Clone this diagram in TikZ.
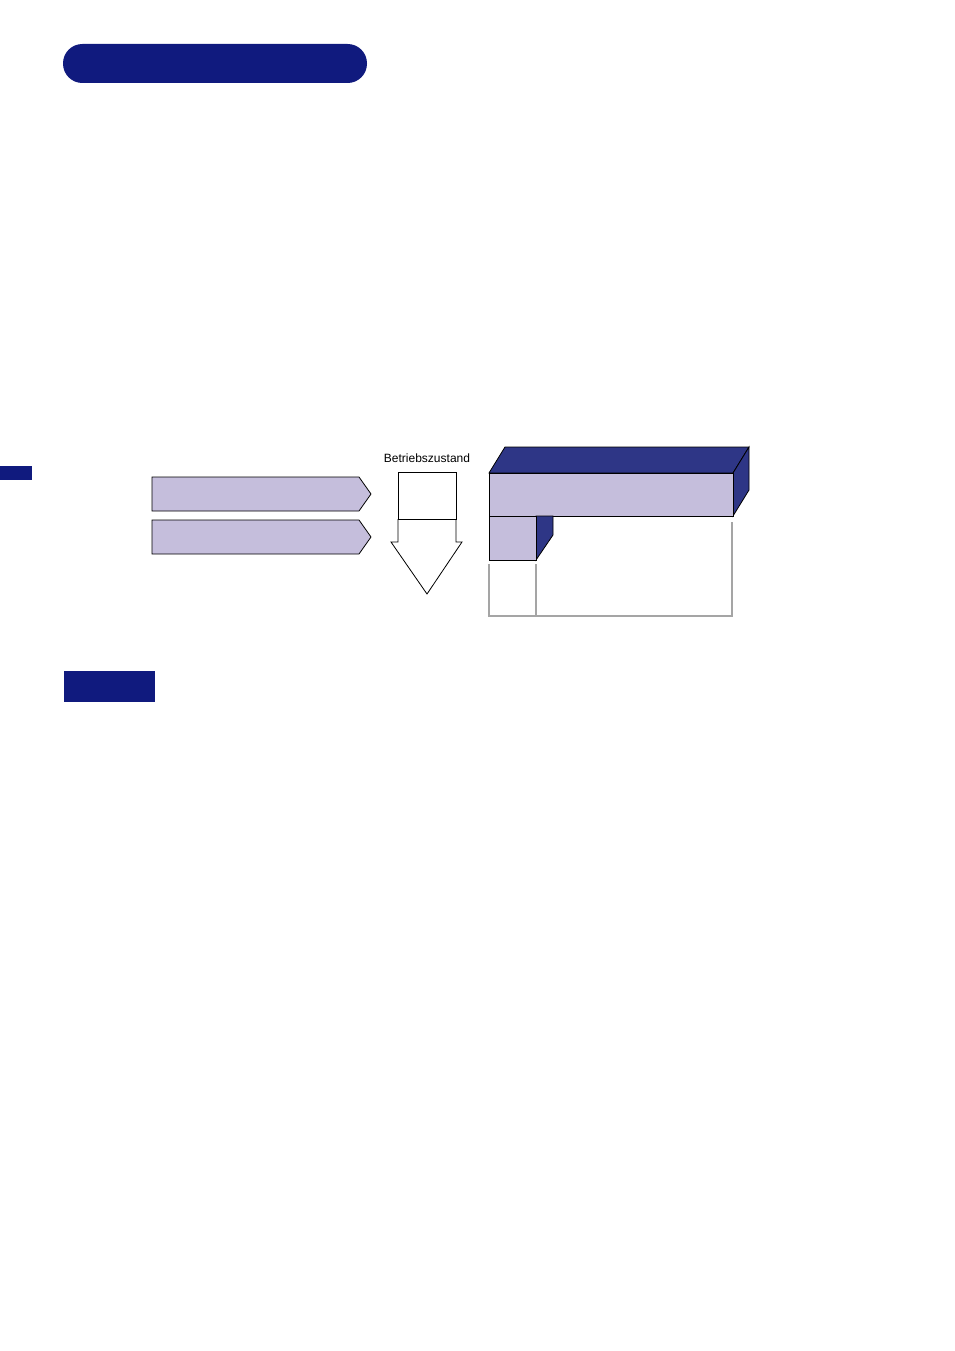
\documentclass[tikz,border=0pt]{standalone}
\usepackage{fontspec}
\setmainfont{Liberation Sans}

\definecolor{navy}{RGB}{16,26,126}
\definecolor{sideblue}{RGB}{46,54,134}
\definecolor{lilac}{RGB}{197,190,220}
\definecolor{guidegray}{RGB}{165,165,165}

\tikzstyle{line} = [line width=0.6pt, draw=black]
\tikzstyle{face} = [line, fill=lilac]
\tikzstyle{side} = [line, fill=sideblue]
\tikzstyle{guide} = [line width=0.8pt, draw=guidegray]

\begin{document}
\begin{tikzpicture}[x=0.75pt,y=-0.75pt]
\useasboundingbox (0,0) rectangle (954,1351);

% header bars
\fill[navy, rounded corners=14.5pt] (63,44) rectangle (367,83);
\fill[navy] (0,466) rectangle (32,480);
\fill[navy] (64,671) rectangle (155,702);

% signal arrows
\draw[face] (152,477) -- (359,477) -- (371,494) -- (359,511) -- (152,511) -- cycle;
\draw[face] (152,520) -- (359,520) -- (371,537) -- (359,554) -- (152,554) -- cycle;

% down arrow
\node[inner sep=0pt, font=\fontsize{9}{10}\selectfont] (state) at (427,458) {Betriebszustand};
\draw[line] (398,519) -- (398,472) -- (456,472) -- (456,519) -- cycle;
\draw[line] (398,519) -- (398,542) -- (391,542) -- (427,594) -- (462,542) -- (456,542) -- (456,519);

% block
\draw[side] (489,473) -- (505,447) -- (749,447) -- (733,473) -- cycle;
\draw[side] (733,473) -- (749,447) -- (749,490) -- (733,516) -- cycle;
\draw[face] (489,473) rectangle (733,516);
\draw[side] (536,516) -- (553,516) -- (553,535) -- (536,560) -- cycle;
\draw[face] (489,516) rectangle (536,560);
\draw[guide] (489,564) -- (489,616) -- (732,616) -- (732,522);
\draw[guide] (536,564) -- (536,616);

\end{tikzpicture}
\end{document}
